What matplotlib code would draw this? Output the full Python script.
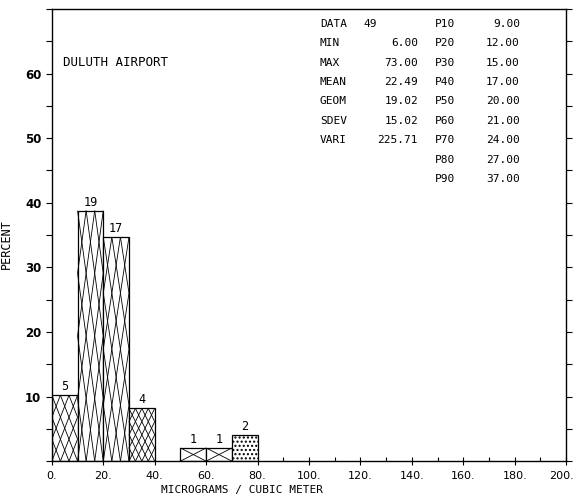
import matplotlib
matplotlib.use('Agg')
import matplotlib.pyplot as plt
from matplotlib.ticker import MultipleLocator
from matplotlib.collections import LineCollection
from matplotlib.transforms import ScaledTranslation

# -----------------------------
# Data
# -----------------------------
bin_left = [0, 10, 20, 30, 40, 50, 60, 70]
counts = [5, 19, 17, 4, 0, 1, 1, 2]
n_total = 49

stat_names = ['DATA', 'MIN', 'MAX', 'MEAN', 'GEOM', 'SDEV', 'VARI']
stat_values = ['49', '6.00', '73.00', '22.49', '19.02', '15.02', '225.71']
pct_names = ['P10', 'P20', 'P30', 'P40', 'P50', 'P60', 'P70', 'P80', 'P90']
pct_values = ['9.00', '12.00', '15.00', '17.00', '20.00', '21.00', '24.00', '27.00', '37.00']

# fill style per bar: (cells across, cells up) for the cross lattice, None = dots
fills = [(3, 3), (3, 4), (3, 4), (4, 4), None, (1, 1), (1, 1), None]

percent = [c / n_total * 100 for c in counts]

# -----------------------------
# Plotting
# -----------------------------
mono = 'DejaVu Sans Mono'
fig = plt.figure(figsize=(5.76, 4.98), dpi=100)
ax = fig.add_axes([0.090, 0.074, 0.893, 0.908])

width = 10
for x, p, c, f in zip(bin_left, percent, counts, fills):
    if c == 0:
        continue
    ax.bar(x, p, width=width, align='edge', facecolor='white',
           edgecolor='black', hatch='....' if f is None else None,
           linewidth=0.9, zorder=2)
    if f is not None:
        nx, ny = f
        dx, dy = width / nx, p / ny
        segs = []
        for i in range(nx):
            for j in range(ny):
                x0, y0 = x + i * dx, j * dy
                segs.append([(x0, y0), (x0 + dx, y0 + dy)])
                segs.append([(x0, y0 + dy), (x0 + dx, y0)])
        ax.add_collection(LineCollection(segs, colors='black', linewidths=0.6, zorder=3))
    ax.text(x + 5, p + 0.3, str(c), ha='center', va='bottom', fontsize=8.5, family=mono)

ax.set_xlim(0, 200)
ax.set_ylim(0, 70)
ax.xaxis.set_minor_locator(MultipleLocator(10))
ax.yaxis.set_minor_locator(MultipleLocator(5))
ax.set_xticks(range(0, 201, 20))
ax.set_xticklabels([f'{v}.' for v in range(0, 201, 20)], fontsize=8)
ax.set_yticks(range(10, 61, 10))
ax.set_yticklabels([str(v) for v in range(10, 61, 10)], fontsize=8.5, fontweight='bold')
ax.tick_params(axis='x', which='major', direction='inout', length=6, width=0.8, pad=4)
ax.tick_params(axis='x', which='minor', direction='in', length=3, width=0.8)
ax.tick_params(axis='y', which='both', direction='out', length=4, width=0.8, right=True)
for s in ax.spines.values():
    s.set_linewidth(1.0)

# keep the last tick label inside the figure
last = ax.get_xticklabels()[-1]
last.set_transform(last.get_transform() + ScaledTranslation(-5 / 100, 0, fig.dpi_scale_trans))

ax.set_ylabel('PERCENT', fontsize=8.5, family=mono)
ax.yaxis.set_label_coords(-0.075, 0.48)
ax.set_xlabel('MICROGRAMS / CUBIC METER', fontsize=8, family=mono)
ax.xaxis.set_label_coords(0.37, -0.053)

ax.text(0.021, 0.881, 'DULUTH AIRPORT', transform=ax.transAxes, fontsize=9,
        va='center', family=mono)

# statistics block
row_h = 0.0429
top = 0.967
for i, (name, val) in enumerate(zip(stat_names, stat_values)):
    y = top - i * row_h
    ax.text(0.521, y, name, transform=ax.transAxes, fontsize=8, va='center', family=mono)
    if name == 'DATA':
        ax.text(0.605, y, val, transform=ax.transAxes, fontsize=8, va='center', family=mono)
    else:
        ax.text(0.712, y, val, transform=ax.transAxes, fontsize=8, va='center',
                ha='right', family=mono)
for i, (name, val) in enumerate(zip(pct_names, pct_values)):
    y = top - i * row_h
    ax.text(0.745, y, name, transform=ax.transAxes, fontsize=8, va='center', family=mono)
    ax.text(0.910, y, val, transform=ax.transAxes, fontsize=8, va='center',
            ha='right', family=mono)

plt.savefig('out.png', dpi=100)
